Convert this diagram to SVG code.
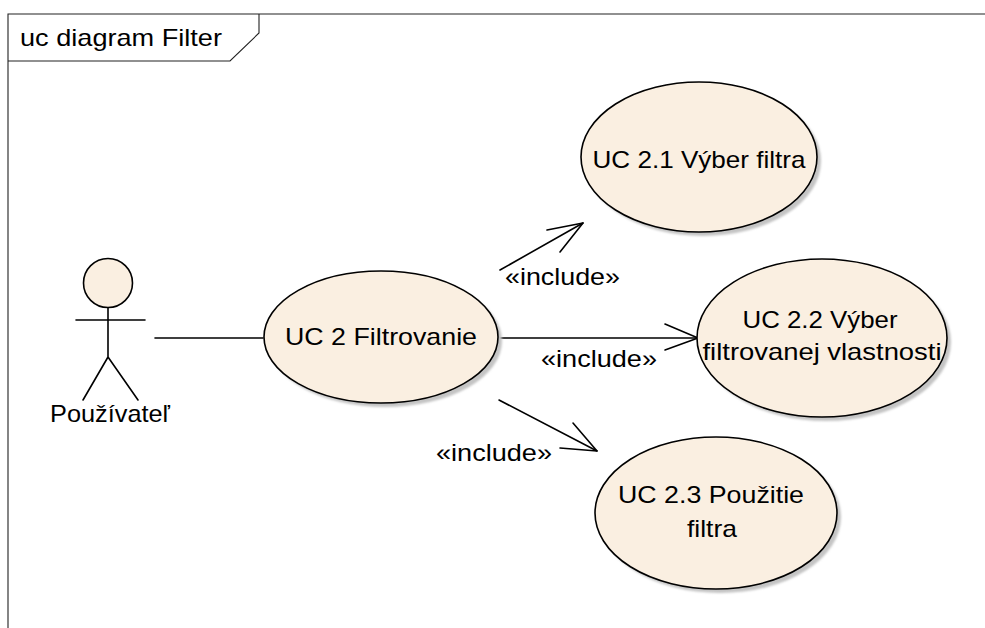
<svg xmlns="http://www.w3.org/2000/svg" width="985" height="628" viewBox="0 0 985 628">
  <style>
    .frame { fill: none; stroke: #222; stroke-width: 1.1; }
    .uc { fill: #FAEFE1; stroke: #000; stroke-width: 1.6; }
    .shadow { fill: #c4c4c4; stroke: none; filter: url(#soft); }
    .line { fill: none; stroke: #000; stroke-width: 1.6; stroke-linecap: round; stroke-linejoin: round; }
    text { font-family: "Liberation Sans", Arial, sans-serif; font-size: 24px; fill: #000; }
    .mid { text-anchor: middle; }
  </style>
  <defs>
    <filter id="soft" x="-10%" y="-10%" width="120%" height="120%">
      <feGaussianBlur stdDeviation="1.2"/>
    </filter>
  </defs>

  <rect x="0" y="0" width="985" height="628" fill="#fff"/>

  <!-- diagram frame with name tab -->
  <g id="frame">
    <path class="frame" d="M985,14 H8 V628"/>
    <path class="frame" d="M8,61 H230 L259,33 V14"/>
    <text x="20" y="46" textLength="202" lengthAdjust="spacingAndGlyphs">uc diagram Filter</text>
  </g>

  <!-- connectors -->
  <g id="connectors">
    <!-- association actor - UC 2 -->
    <line class="line" x1="155" y1="338" x2="263" y2="338"/>
    <!-- include UC 2 -> UC 2.1 -->
    <path class="line" d="M500,270 L583,223"/>
    <path class="line" d="M547,230 L583,223 L560,252"/>
    <text x="505" y="285" textLength="115" lengthAdjust="spacingAndGlyphs">«include»</text>
    <!-- include UC 2 -> UC 2.2 -->
    <path class="line" d="M499,338 L698,338"/>
    <path class="line" d="M665,324 L698,338 L665,350"/>
    <text x="541" y="367" textLength="116" lengthAdjust="spacingAndGlyphs">«include»</text>
    <!-- include UC 2 -> UC 2.3 -->
    <path class="line" d="M499,400 L597,451"/>
    <path class="line" d="M573,423 L597,451 L560,448"/>
    <text x="436" y="461" textLength="116" lengthAdjust="spacingAndGlyphs">«include»</text>
  </g>

  <!-- actor -->
  <g id="actor-pouzivatel">
    <circle class="uc" cx="108" cy="283" r="24.5"/>
    <path class="line" d="M108,308 V357 M76,320 H145 M83,400 L108,357 L138,400"/>
    <text class="mid" x="110" y="422" textLength="120" lengthAdjust="spacingAndGlyphs">Používateľ</text>
  </g>

  <!-- use cases -->
  <g id="uc2">
    <ellipse class="shadow" cx="385" cy="341" rx="117" ry="66"/>
    <ellipse class="uc" cx="381" cy="337" rx="117" ry="66"/>
    <text class="mid" x="381" y="345" textLength="192" lengthAdjust="spacingAndGlyphs">UC 2 Filtrovanie</text>
  </g>

  <g id="uc2-1">
    <ellipse class="shadow" cx="703" cy="161" rx="118" ry="75"/>
    <ellipse class="uc" cx="699" cy="157" rx="118" ry="75"/>
    <text class="mid" x="699" y="168" textLength="213" lengthAdjust="spacingAndGlyphs">UC 2.1 Výber filtra</text>
  </g>

  <g id="uc2-2">
    <ellipse class="shadow" cx="826" cy="342" rx="125" ry="79"/>
    <ellipse class="uc" cx="822" cy="338" rx="125" ry="79"/>
    <text class="mid" x="820" y="328" textLength="155" lengthAdjust="spacingAndGlyphs">UC 2.2 Výber</text>
    <text class="mid" x="822" y="360" textLength="239" lengthAdjust="spacingAndGlyphs">filtrovanej vlastnosti</text>
  </g>

  <g id="uc2-3">
    <ellipse class="shadow" cx="720" cy="517" rx="121" ry="76"/>
    <ellipse class="uc" cx="716" cy="513" rx="121" ry="76"/>
    <text class="mid" x="711" y="503" textLength="186" lengthAdjust="spacingAndGlyphs">UC 2.3 Použitie</text>
    <text class="mid" x="712" y="537" textLength="50" lengthAdjust="spacingAndGlyphs">filtra</text>
  </g>
</svg>
